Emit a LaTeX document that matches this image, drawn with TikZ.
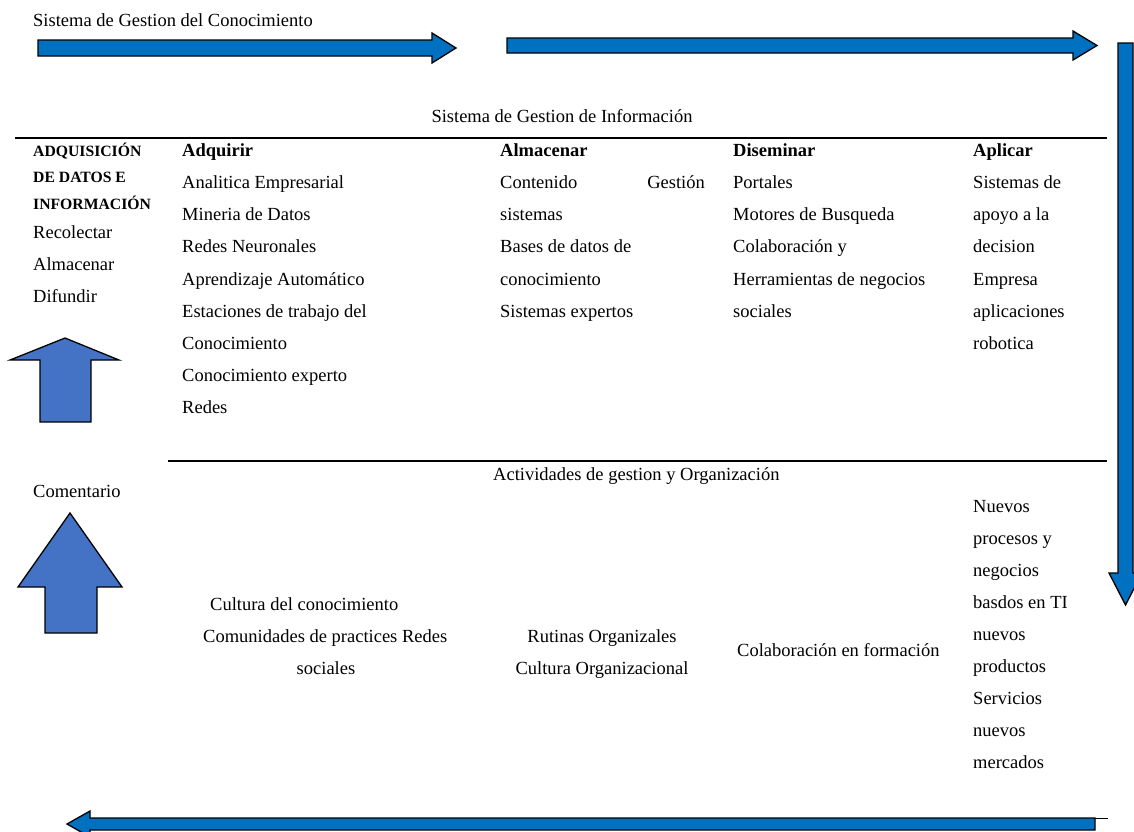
\documentclass[tikz,border=0pt]{standalone}
\usepackage{fontspec}
\setmainfont{Liberation Serif}
\begin{document}
\begin{tikzpicture}[x=1pt,y=-1pt,
  txt/.style={anchor=base west, inner sep=0pt, font=\fontsize{18.5}{22}\selectfont},
  ctxt/.style={anchor=base, inner sep=0pt, font=\fontsize{18.5}{22}\selectfont},
  rtxt/.style={anchor=base east, inner sep=0pt, font=\fontsize{18.5}{22}\selectfont},
  htxt/.style={anchor=base west, inner sep=0pt, font=\fontsize{18.5}{22}\selectfont\bfseries},
  captxt/.style={anchor=base west, inner sep=0pt, font=\fontsize{15.7}{18}\selectfont\bfseries},
  flowarrow/.style={fill=flowblue, draw=black, line width=1.3pt, line join=miter},
  uparrow/.style={fill=upblue, draw=black, line width=1.3pt, line join=miter},
  rule/.style={draw=black, line width=1.8pt},
]
\definecolor{flowblue}{HTML}{0070C0}
\definecolor{upblue}{HTML}{4472C4}
\useasboundingbox (0,0) rectangle (1134,831);

% title
\node[txt] (title) at (33,26) {Sistema de Gestion del Conocimiento};

% flow arrows around the table
\filldraw[flowarrow] (38,40) -- (432,40) -- (432,33) -- (456,48) -- (432,63) -- (432,56) -- (38,56) -- cycle;
\filldraw[flowarrow] (507,38) -- (1073,38) -- (1073,31) -- (1097,45.5) -- (1073,60) -- (1073,53) -- (507,53) -- cycle;
\filldraw[flowarrow] (1118,43) -- (1133,43) -- (1133,573) -- (1142,573) -- (1125.5,605) -- (1109,573) -- (1118,573) -- cycle;
\filldraw[flowarrow] (1095,818) -- (90,818) -- (90,811) -- (67,824) -- (90,837) -- (90,830) -- (1095,830) -- cycle;
\draw[black, line width=1pt] (1095,818) -- (1108,818);

% table rules
\node[ctxt] (sgi) at (562,122) {Sistema de Gestion de Información};
\draw[rule] (15,138) -- (1107,138);
\draw[rule] (168,461) -- (1107,461);

% left column
\node[captxt] (c1a) at (33,156) {ADQUISICIÓN};
\node[captxt] (c1b) at (33,182) {DE DATOS E};
\node[captxt] (c1c) at (33,209) {INFORMACIÓN};
\node[txt] (c1d) at (33,238) {Recolectar};
\node[txt] (c1e) at (33,270) {Almacenar};
\node[txt] (c1f) at (33,302) {Difundir};

% Adquirir
\node[htxt] (h2) at (182,156) {Adquirir};
\node[txt] at (182,188) {Analitica Empresarial};
\node[txt] at (182,220) {Mineria de Datos};
\node[txt] at (182,252) {Redes Neuronales};
\node[txt] at (182,285) {Aprendizaje Automático};
\node[txt] at (182,317) {Estaciones de trabajo del};
\node[txt] at (182,349) {Conocimiento};
\node[txt] at (182,381) {Conocimiento experto};
\node[txt] at (182,413) {Redes};

% Almacenar
\node[htxt] (h3) at (500,156) {Almacenar};
\node[txt] at (500,188) {Contenido};
\node[rtxt] at (705,188) {Gestión};
\node[txt] at (500,220) {sistemas};
\node[txt] at (500,252) {Bases de datos de};
\node[txt] at (500,285) {conocimiento};
\node[txt] at (500,317) {Sistemas expertos};

% Diseminar
\node[htxt] (h4) at (733,156) {Diseminar};
\node[txt] at (733,188) {Portales};
\node[txt] at (733,220) {Motores de Busqueda};
\node[txt] at (733,252) {Colaboración y};
\node[txt] at (733,285) {Herramientas de negocios};
\node[txt] at (733,317) {sociales};

% Aplicar
\node[htxt] (h5) at (973,156) {Aplicar};
\node[txt] at (973,188) {Sistemas de};
\node[txt] at (973,220) {apoyo a la};
\node[txt] at (973,252) {decision};
\node[txt] at (973,285) {Empresa};
\node[txt] at (973,317) {aplicaciones};
\node[txt] at (973,349) {robotica};

% feedback arrows on the left
\filldraw[uparrow] (65,338) -- (119,360) -- (91,360) -- (91,422) -- (40,422) -- (40,360) -- (10,360) -- cycle;
\node[txt] (coment) at (33,497) {Comentario};
\filldraw[uparrow] (70,513) -- (122,587) -- (97,587) -- (97,633) -- (45,633) -- (45,587) -- (18,587) -- cycle;

% management and organisation row
\node[txt] (act) at (493,480) {Actividades de gestion y Organización};
\node[txt] at (210,610) {Cultura del conocimiento};
\node[txt] at (203,642) {Comunidades de practices Redes};
\node[ctxt] at (326,674) {sociales};
\node[ctxt] at (602,642) {Rutinas Organizales};
\node[ctxt] at (602,674) {Cultura Organizacional};
\node[txt] at (737,656) {Colaboración en formación};

\node[txt] at (973,512) {Nuevos};
\node[txt] at (973,544) {procesos y};
\node[txt] at (973,576) {negocios};
\node[txt] at (973,608) {basdos en TI};
\node[txt] at (973,640) {nuevos};
\node[txt] at (973,672) {productos};
\node[txt] at (973,704) {Servicios};
\node[txt] at (973,736) {nuevos};
\node[txt] at (973,768) {mercados};
\end{tikzpicture}
\end{document}
